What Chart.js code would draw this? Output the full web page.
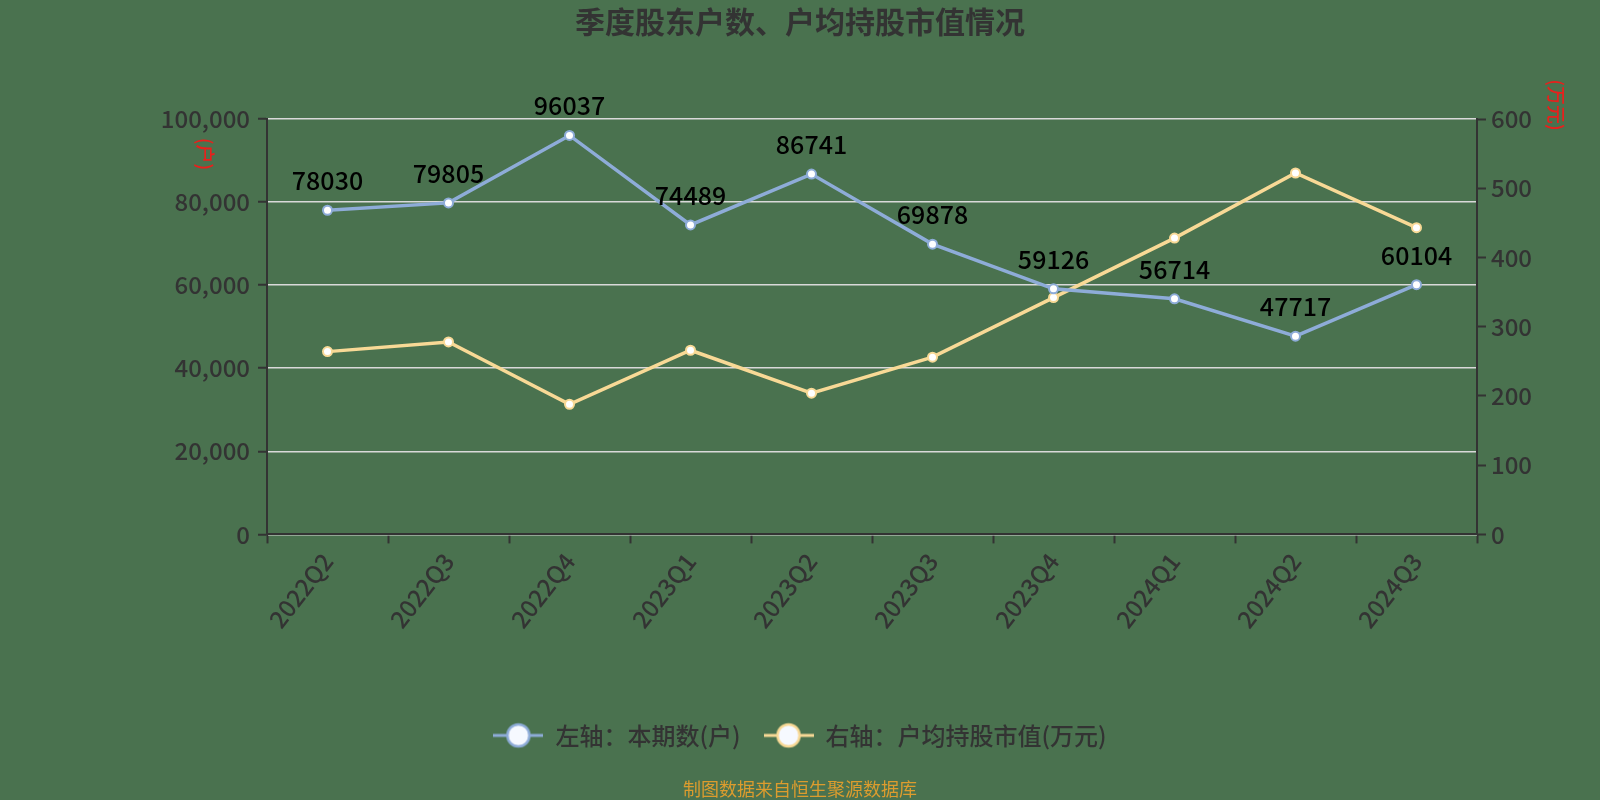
<!DOCTYPE html>
<html>
<head>
<meta charset="utf-8">
<script src="https://cdn.jsdelivr.net/npm/chart.js@4/dist/chart.umd.min.js"></script>
<style>
  html, body { margin: 0; padding: 0; background: #4a724f; }
  #wrap { width: 1600px; height: 800px; }
</style>
</head>
<body>
<div id="wrap"><canvas id="chart" width="1600" height="800"></canvas></div>
<script>
const quarters = ['2022Q2', '2022Q3', '2022Q4', '2023Q1', '2023Q2', '2023Q3', '2023Q4', '2024Q1', '2024Q2', '2024Q3'];
const holderCounts = [78030, 79805, 96037, 74489, 86741, 69878, 59126, 56714, 47717, 60104];
const avgHoldingValue = [264, 278, 188, 266, 204, 256, 342, 428, 522, 443];

const BG = '#4a724f';
const BLUE = '#8eacd8';
const YELLOW = '#f8d996';
const AXIS = '#333333';
const FONT = '"Noto Sans CJK SC", "Noto Sans", sans-serif';

Chart.defaults.font.family = FONT;
Chart.defaults.color = AXIS;

// legend marker: line with a hollow circle
function legendMarker(color) {
  const c = document.createElement('canvas');
  c.width = 50;
  c.height = 28;
  const g = c.getContext('2d');
  g.strokeStyle = color;
  g.lineWidth = 3;
  g.beginPath();
  g.moveTo(0, 14);
  g.lineTo(50, 14);
  g.stroke();
  g.beginPath();
  g.arc(25, 14, 11, 0, Math.PI * 2);
  g.fillStyle = '#f6f9ff';
  g.fill();
  g.lineWidth = 2.5;
  g.stroke();
  return c;
}
const markers = [legendMarker(BLUE), legendMarker(YELLOW)];

const background = {
  id: 'background',
  beforeDraw(chart) {
    const { ctx, width, height } = chart;
    ctx.save();
    ctx.fillStyle = BG;
    ctx.fillRect(0, 0, width, height);
    ctx.restore();
  },
};

// value labels above the blue line
const valueLabels = {
  id: 'valueLabels',
  afterDatasetsDraw(chart) {
    const { ctx } = chart;
    const meta = chart.getDatasetMeta(0);
    ctx.save();
    ctx.font = '500 25px ' + FONT;
    ctx.fillStyle = '#000';
    ctx.textAlign = 'center';
    ctx.textBaseline = 'alphabetic';
    meta.data.forEach((pt, i) => {
      ctx.fillText(String(holderCounts[i]), pt.x, pt.y - 20);
    });
    ctx.restore();
  },
};

// rotated red unit names next to the axes
const axisNames = {
  id: 'axisNames',
  afterDraw(chart) {
    const { ctx, chartArea } = chart;
    const put = (text, x, y) => {
      ctx.save();
      ctx.translate(x, y);
      ctx.rotate(Math.PI / 2);
      ctx.font = '500 19px ' + FONT;
      ctx.fillStyle = '#e8201c';
      ctx.textAlign = 'center';
      ctx.textBaseline = 'middle';
      ctx.fillText(text, 0, 0);
      ctx.restore();
    };
    put('(户)', chartArea.left - 62, chartArea.top + 35);
    put('(万元)', chartArea.right + 79, chartArea.top - 14);
  },
};

new Chart(document.getElementById('chart'), {
  type: 'line',
  data: {
    labels: quarters,
    datasets: [
      {
        label: '左轴：本期数(户)',
        data: holderCounts,
        yAxisID: 'y',
        borderColor: BLUE,
        borderWidth: 3.5,
        pointStyle: 'circle',
        pointRadius: 4.5,
        pointBorderWidth: 2,
        pointBackgroundColor: '#ffffff',
        pointBorderColor: BLUE,
        tension: 0,
      },
      {
        label: '右轴：户均持股市值(万元)',
        data: avgHoldingValue,
        yAxisID: 'y1',
        borderColor: YELLOW,
        borderWidth: 3.5,
        pointStyle: 'circle',
        pointRadius: 4.5,
        pointBorderWidth: 2,
        pointBackgroundColor: '#ffffff',
        pointBorderColor: YELLOW,
        tension: 0,
      },
    ],
  },
  options: {
    responsive: false,
    animation: false,
    devicePixelRatio: 1,
    layout: { padding: 0 },
    plugins: {
      title: {
        display: true,
        text: '季度股东户数、户均持股市值情况',
        color: AXIS,
        font: { size: 30, weight: 'bold', lineHeight: 1.2 },
        padding: { top: 4, bottom: 79 },
      },
      subtitle: {
        display: true,
        position: 'bottom',
        text: '制图数据来自恒生聚源数据库',
        color: '#dc9c2e',
        font: { size: 18, lineHeight: 1.2 },
        padding: { top: 21, bottom: 0 },
      },
      legend: {
        position: 'bottom',
        labels: {
          usePointStyle: true,
          pointStyleWidth: 50,
          padding: 23,
          color: AXIS,
          font: { size: 24, weight: '500' },
          generateLabels(chart) {
            return chart.data.datasets.map((ds, i) => ({
              text: ds.label,
              pointStyle: markers[i],
              fontColor: AXIS,
              strokeStyle: ds.borderColor,
              fillStyle: '#fff',
              lineWidth: 0,
              hidden: false,
              datasetIndex: i,
            }));
          },
        },
      },
      tooltip: { enabled: false },
    },
    scales: {
      x: {
        offset: true,
        grid: { offset: true, drawOnChartArea: false, tickLength: 9, tickColor: AXIS, tickWidth: 2 },
        border: { color: AXIS, width: 2 },
        ticks: { font: { size: 24, weight: '500' }, color: AXIS, minRotation: 52, maxRotation: 52, padding: 4, autoSkip: false },
        afterFit(scale) { scale.height = 166; },
      },
      y: {
        position: 'left',
        min: 0,
        max: 100000,
        ticks: { stepSize: 20000, font: { size: 24, weight: '500' }, color: AXIS, padding: 8 },
        grid: { color: '#d9d9d9', lineWidth: 1.5, tickLength: 9, tickColor: AXIS, tickWidth: 2 },
        border: { color: AXIS, width: 2 },
        afterFit(scale) { scale.width = 267; },
      },
      y1: {
        position: 'right',
        min: 0,
        max: 600,
        ticks: { stepSize: 100, font: { size: 24, weight: '500' }, color: AXIS, padding: 5 },
        grid: { drawOnChartArea: false, tickLength: 9, tickColor: AXIS, tickWidth: 2 },
        border: { color: AXIS, width: 2 },
        afterFit(scale) { scale.width = 123; },
      },
    },
  },
  plugins: [background, valueLabels, axisNames],
});
</script>
</body>
</html>
